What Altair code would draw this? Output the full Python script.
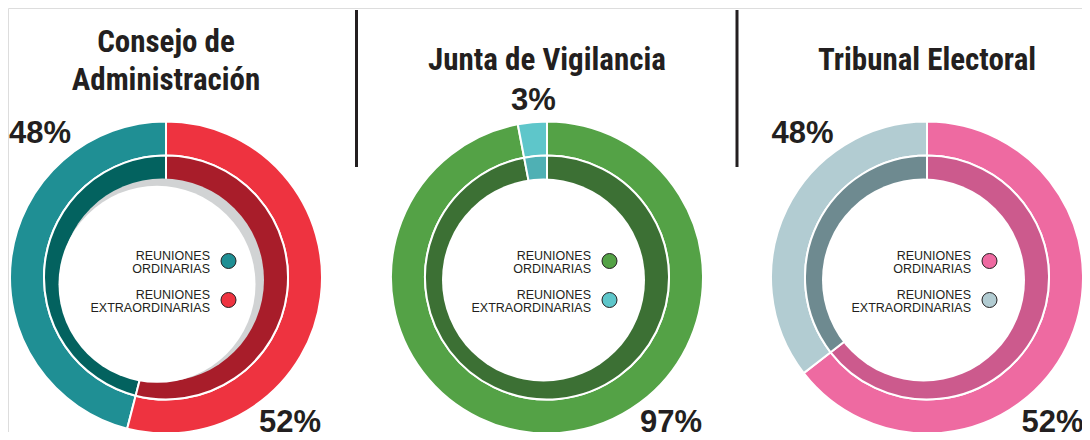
import altair as alt
import pandas as pd

# ---------------- data ----------------
panel_titles = ["Consejo de\nAdministración", "Junta de Vigilancia", "Tribunal Electoral"]
types = ["Ordinarias", "Extraordinarias"]
# percentages printed on the chart
ordinarias = [48, 97, 52]
extraordinarias = [52, 3, 48]
# share of the ring each segment actually covers in the drawing
arc_ordinarias = [46, 97, 64.5]
arc_extraordinarias = [54, 3, 35.5]
# segment drawn first, clockwise from 12 o'clock
first_type = ["Extraordinarias", "Ordinarias", "Ordinarias"]
legend_labels = ["REUNIONES ORDINARIAS", "REUNIONES EXTRAORDINARIAS"]

rows = []
for i in range(3):
    for t, v, a in zip(types, [ordinarias[i], extraordinarias[i]],
                       [arc_ordinarias[i], arc_extraordinarias[i]]):
        rows.append({"panel": i, "tipo": t, "valor": v, "arco": a,
                     "orden": 0 if t == first_type[i] else 1})
df = pd.DataFrame(rows)
legend_df = pd.DataFrame({"tipo": types, "label": legend_labels})
one = pd.DataFrame({"o": [0]})

# ---------------- styles / layout ----------------
outer_colors = [
    {"Ordinarias": "#1f8f94", "Extraordinarias": "#ee3340"},
    {"Ordinarias": "#54a246", "Extraordinarias": "#5ec6ca"},
    {"Ordinarias": "#ee6aa1", "Extraordinarias": "#b2ccd2"},
]
inner_colors = [
    {"Ordinarias": "#03625f", "Extraordinarias": "#a81d2a"},
    {"Ordinarias": "#3c7034", "Extraordinarias": "#4fb0b4"},
    {"Ordinarias": "#cc5a8d", "Extraordinarias": "#6e8a90"},
]
DARK = "#231f20"
centers_x = [158, 539, 919]
CY = 269.5
R_OUT, R_MID, R_HOLE = 156, 122, 101.5
TITLE_FONT = "Noto Sans Condensed, Roboto Condensed, Liberation Sans Narrow, Roboto, sans-serif"
LABEL_FONT = "Liberation Sans, Arial, Helvetica, sans-serif"
title_y = [44, 61.5, 61.5]
# label positions: (first segment, second segment)
label_pos = [
    [(282, 423.5), (32, 135)],
    [(663, 423.5), (525.5, 102)],
    [(1044.5, 423.5), (794.5, 135)],
]
legend_y = [CY - 16.5, CY + 22.5]
FULL = 6.2832

layers = []
for i in range(3):
    cx = centers_x[i]
    base = alt.Chart(df).transform_filter(alt.datum.panel == i)
    oc, ic = outer_colors[i], inner_colors[i]
    enc = dict(
        theta=alt.Theta("arco:Q", stack=True),
        order=alt.Order("orden:Q"),
        detail=alt.Detail("tipo:N"),
        x=alt.value(cx), y=alt.value(CY),
    )
    outer = base.mark_arc(outerRadius=R_OUT, innerRadius=R_MID, stroke="white", strokeWidth=2).encode(
        color=alt.condition("datum.tipo == 'Ordinarias'", alt.value(oc["Ordinarias"]), alt.value(oc["Extraordinarias"])),
        **enc)
    inner = base.mark_arc(outerRadius=R_MID, innerRadius=0, stroke="white", strokeWidth=2).encode(
        color=alt.condition("datum.tipo == 'Ordinarias'", alt.value(ic["Ordinarias"]), alt.value(ic["Extraordinarias"])),
        **enc)
    layers += [outer, inner]
    if i == 0:
        gray = alt.Chart(one).mark_arc(outerRadius=R_HOLE, innerRadius=0, theta=0, theta2=FULL,
                                       color="#d1d3d4").encode(x=alt.value(cx - 3.5), y=alt.value(CY + 2.5))
        white = alt.Chart(one).mark_arc(outerRadius=98.5, innerRadius=0, theta=0, theta2=FULL,
                                        color="white").encode(x=alt.value(cx - 9), y=alt.value(CY + 6.8))
        layers += [gray, white]
    else:
        white = alt.Chart(one).mark_arc(outerRadius=R_HOLE, innerRadius=0, theta=0, theta2=FULL,
                                        color="white").encode(x=alt.value(cx - 3.5), y=alt.value(CY + 2.5))
        layers.append(white)

    # legend
    for k, t in enumerate(types):
        lg = alt.Chart(legend_df).transform_filter(alt.datum.tipo == t)
        txt = lg.mark_text(align="right", baseline="alphabetic", font=LABEL_FONT, fontSize=12.5,
                           lineBreak=" ", lineHeight=12.5, color=DARK).encode(
            text="label:N", x=alt.value(cx + 44), y=alt.value(legend_y[k] - 1))
        pt = lg.mark_point(shape="circle", filled=True, fill=oc[t], stroke=DARK, strokeWidth=1,
                           size=225, opacity=1).encode(x=alt.value(cx + 62.5), y=alt.value(legend_y[k]))
        layers += [txt, pt]

    # percentage labels
    for k, t in enumerate([first_type[i], [x for x in types if x != first_type[i]][0]]):
        lx, ly = label_pos[i][k]
        lab = alt.Chart(df).transform_filter((alt.datum.panel == i) & (alt.datum.tipo == t)).transform_calculate(
            label="datum.valor + '%'").mark_text(align="center", baseline="alphabetic", font=LABEL_FONT,
                                                 fontSize=31, fontWeight="bold", color=DARK).encode(
            text="label:N", x=alt.value(lx), y=alt.value(ly))
        layers.append(lab)

    # title
    tdf = pd.DataFrame({"title": [panel_titles[i]]})
    title = alt.Chart(tdf).mark_text(align="center", baseline="alphabetic", font=TITLE_FONT, fontSize=31,
                                     fontWeight="bold", lineBreak="\n", lineHeight=38, color=DARK).encode(
        text="title:N", x=alt.value(cx), y=alt.value(title_y[i]))
    layers.append(title)

# separators
for sx in [348.5, 729]:
    layers.append(alt.Chart(one).mark_rule(color=DARK, strokeWidth=3).encode(
        x=alt.value(sx), y=alt.value(2), y2=alt.value(159)))

chart = alt.layer(*layers).properties(
    width=1074, height=424, padding=0, autosize=alt.AutoSizeParams(type="none")
).configure_view(strokeWidth=0).configure(background="white")

chart.save("out.html", embed_options={"renderer": "svg", "actions": False})
